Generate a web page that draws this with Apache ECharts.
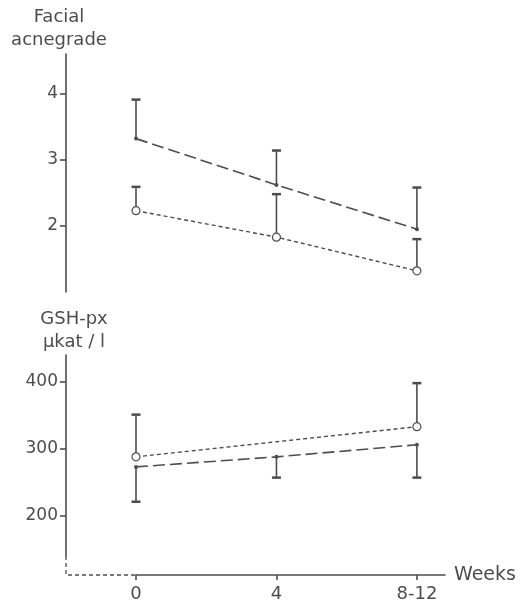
<!DOCTYPE html>
<html>
<head>
<meta charset="utf-8">
<script src="https://cdn.jsdelivr.net/npm/echarts@6/dist/echarts.min.js"></script>
<style>
  html, body { margin: 0; padding: 0; background: #fff; }
  #chart { width: 521px; height: 607px; }
</style>
</head>
<body>
<div id="chart"></div>
<script>
// x positions 0,1,2 stand for the week categories
var weekLabels = ["0", "4", "8-12"];

// top panel: facial acne grade
var acneFilled = [3.32, 2.62, 1.95];
var acneFilledUpper = [3.91, 3.14, 2.58];
var acneOpen = [2.23, 1.83, 1.32];
var acneOpenUpper = [2.59, 2.48, 1.80];

// bottom panel: GSH-px (µkat/l)
var gshFilled = [273, 288, 306];
var gshFilledLower = [221, 257, 257];
var gshOpenX = [0, 2];
var gshOpen = [288, 333];
var gshOpenUpper = [351, 398];

var ink = "#4d4d4d";
var font = "DejaVu Sans";

function pts(xs, ys) {
  return ys.map(function (v, i) { return [xs ? xs[i] : i, v]; });
}
function bars(xs, from, to) {
  return from.map(function (v, i) { return [xs ? xs[i] : i, v, to[i]]; });
}

function errorBar(api) {
  var a = api.coord([api.value(0), api.value(1)]);
  var b = api.coord([api.value(0), api.value(2)]);
  return {
    type: "group",
    children: [
      { type: "line", shape: { x1: a[0], y1: a[1], x2: b[0], y2: b[1] },
        style: { stroke: ink, lineWidth: 1.6 } },
      { type: "line", shape: { x1: b[0] - 4.5, y1: b[1], x2: b[0] + 4.5, y2: b[1] },
        style: { stroke: ink, lineWidth: 2.5 } }
    ]
  };
}

var yLabelStyle = { color: ink, fontFamily: font, fontSize: 17, margin: 8 };
var longDash = { color: ink, width: 1.6, type: [12, 5] };
var shortDash = { color: ink, width: 1.4, type: [4, 3] };

var option = {
  animation: false,
  backgroundColor: "#fff",
  grid: [
    { left: 136, top: 54, width: 309, height: 238 },
    { left: 136, top: 355, width: 309, height: 201 }
  ],
  xAxis: [
    { gridIndex: 0, type: "value", min: 0, max: 2.2, show: false },
    {
      gridIndex: 1, type: "value", min: 0, max: 2.2, interval: 1, offset: 19,
      name: "Weeks", nameLocation: "end", nameGap: 9,
      nameTextStyle: { color: ink, fontFamily: font, fontSize: 19, verticalAlign: "middle" },
      axisLine: { onZero: false, lineStyle: { color: ink, width: 1.6 } },
      axisTick: { length: 5, lineStyle: { color: ink, width: 1.6 } },
      splitLine: { show: false },
      axisLabel: {
        color: ink, fontFamily: font, fontSize: 18, margin: 10, showMaxLabel: false,
        formatter: function (v) { return weekLabels[v] || ""; }
      }
    }
  ],
  yAxis: [
    {
      gridIndex: 0, type: "value", min: 1, max: 4.6, offset: 70,
      name: "Facial\nacnegrade", nameLocation: "end", nameGap: 2,
      nameTextStyle: { color: ink, fontFamily: font, fontSize: 18, lineHeight: 23, align: "center", padding: [0, 14, 0, 0] },
      axisLine: { show: true, onZero: false, lineStyle: { color: ink, width: 1.6 } },
      axisTick: { show: true, length: 6, customValues: [2, 3, 4], lineStyle: { color: ink, width: 1.6 } },
      axisLabel: Object.assign({ customValues: [2, 3, 4] }, yLabelStyle),
      splitLine: { show: false }
    },
    {
      gridIndex: 1, type: "value", min: 140, max: 440, offset: 70,
      name: "GSH-px\nµkat / l", nameLocation: "end", nameGap: 1,
      nameTextStyle: { color: ink, fontFamily: font, fontSize: 18, lineHeight: 23, align: "center", padding: [0, 0, 0, 16] },
      axisLine: { show: true, onZero: false, lineStyle: { color: ink, width: 1.6 } },
      axisTick: { show: true, length: 6, customValues: [200, 300, 400], lineStyle: { color: ink, width: 1.6 } },
      axisLabel: Object.assign({ customValues: [200, 300, 400] }, yLabelStyle),
      splitLine: { show: false }
    }
  ],
  graphic: [
    // broken-axis dashes joining the two axes
    { type: "polyline", shape: { points: [[66, 556], [66, 575], [136, 575]] },
      style: { stroke: ink, lineWidth: 1.3, lineDash: [4, 3], fill: null } }
  ],
  series: [
    { type: "custom", xAxisIndex: 0, yAxisIndex: 0, renderItem: function (p, api) { return errorBar(api); },
      data: bars(null, acneFilled, acneFilledUpper), z: 1 },
    { type: "custom", xAxisIndex: 0, yAxisIndex: 0, renderItem: function (p, api) { return errorBar(api); },
      data: bars(null, acneOpen, acneOpenUpper), z: 1 },
    { type: "line", xAxisIndex: 0, yAxisIndex: 0, data: pts(null, acneFilled),
      lineStyle: longDash, symbol: "circle", symbolSize: 4, itemStyle: { color: ink }, z: 3 },
    { type: "line", xAxisIndex: 0, yAxisIndex: 0, data: pts(null, acneOpen),
      lineStyle: shortDash, symbol: "circle", symbolSize: 8,
      itemStyle: { color: "#fff", borderColor: ink, borderWidth: 1.2 }, z: 3 },

    { type: "custom", xAxisIndex: 1, yAxisIndex: 1, renderItem: function (p, api) { return errorBar(api); },
      data: bars(null, gshFilled, gshFilledLower), z: 1 },
    { type: "custom", xAxisIndex: 1, yAxisIndex: 1, renderItem: function (p, api) { return errorBar(api); },
      data: bars(gshOpenX, gshOpen, gshOpenUpper), z: 1 },
    { type: "line", xAxisIndex: 1, yAxisIndex: 1, data: pts(null, gshFilled),
      lineStyle: longDash, symbol: "circle", symbolSize: 4, itemStyle: { color: ink }, z: 3 },
    { type: "line", xAxisIndex: 1, yAxisIndex: 1, data: pts(gshOpenX, gshOpen),
      lineStyle: shortDash, symbol: "circle", symbolSize: 8,
      itemStyle: { color: "#fff", borderColor: ink, borderWidth: 1.2 }, z: 3 }
  ]
};

var chart = echarts.init(document.getElementById("chart"), null, { renderer: "canvas" });
chart.setOption(option);
</script>
</body>
</html>
